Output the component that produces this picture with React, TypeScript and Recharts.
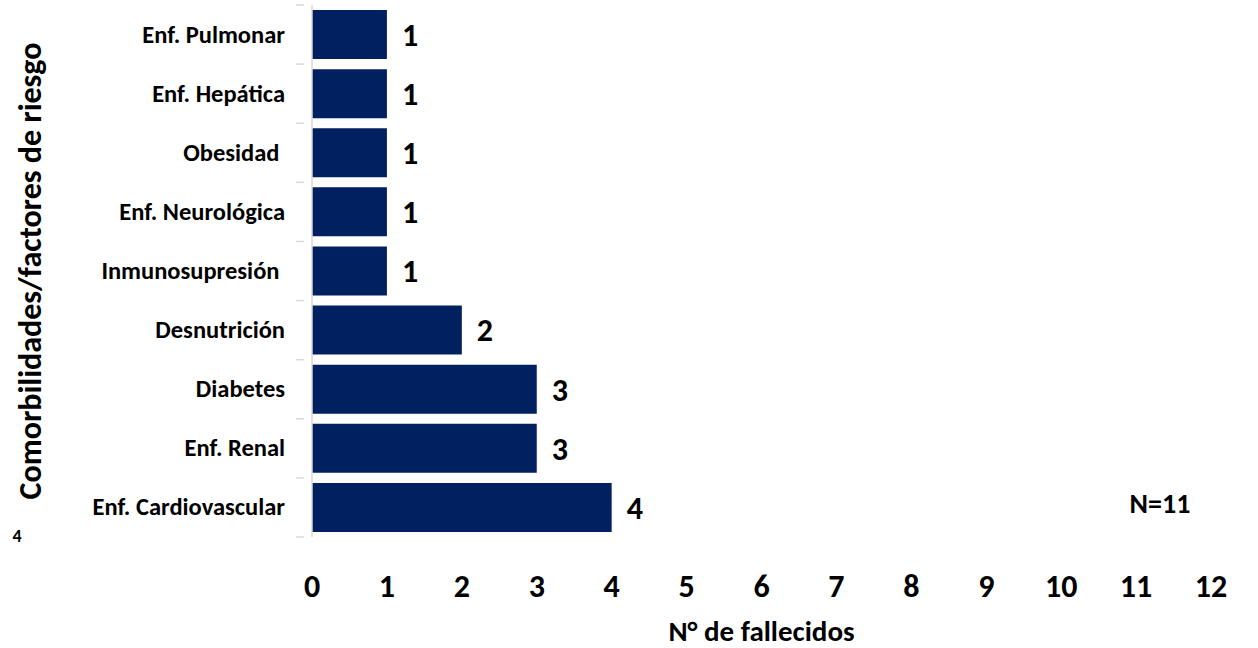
import React from "react";
import { BarChart, Bar, XAxis, YAxis, LabelList } from "recharts";

const categorias = [
  "Enf. Pulmonar",
  "Enf. Hepática",
  "Obesidad ",
  "Enf. Neurológica",
  "Inmunosupresión ",
  "Desnutrición",
  "Diabetes",
  "Enf. Renal",
  "Enf. Cardiovascular",
];
const fallecidos = [1, 1, 1, 1, 1, 2, 3, 3, 4];
const xTicks = [0, 1, 2, 3, 4, 5, 6, 7, 8, 9, 10, 11, 12];

const data = categorias.map((c, i) => ({ name: c, value: fallecidos[i] }));

const W = 1258;
const H = 648;
const MARGIN = { top: 5, right: 47, bottom: 81, left: 0 };
const AXIS_W = 312;
const FONT = "Carlito, Lato, 'Liberation Sans', sans-serif";
const BAND = (H - MARGIN.top - MARGIN.bottom - 30) / categorias.length;

const CategoryTick = (props: any) => {
  const { x, y, payload, index } = props;
  const last = index === categorias.length - 1;
  return (
    <g>
      <text
        x={x - 19}
        y={y}
        textAnchor="end"
        dominantBaseline="central"
        fontFamily={FONT}
        fontWeight="bold"
        fontSize={24.5}
        fill="#000"
        style={{ whiteSpace: "pre" }}
      >
        {payload.value}
      </text>
      <line x1={x - 8} x2={x} y1={y - BAND / 2} y2={y - BAND / 2} stroke="#d9d9d9" strokeWidth={1.5} />
      {last && <line x1={x - 8} x2={x} y1={y + BAND / 2} y2={y + BAND / 2} stroke="#d9d9d9" strokeWidth={1.5} />}
    </g>
  );
};

export default function App() {
  return (
    <div style={{ position: "absolute", left: 0, top: 0, width: W, height: H, background: "#fff" }}>
      <BarChart width={W} height={H} data={data} layout="vertical" margin={MARGIN} barCategoryGap="8.5%">
        <XAxis
          type="number"
          domain={[0, 12]}
          ticks={xTicks}
          interval={0}
          axisLine={false}
          tickLine={false}
          tickMargin={31}
          tick={{ fill: "#000", fontSize: 32, fontWeight: "bold", fontFamily: FONT }}
          label={{
            value: "N° de fallecidos",
            position: "insideBottom",
            offset: -74,
            fill: "#000",
            fontSize: 29,
            fontWeight: "bold",
            fontFamily: FONT,
          }}
        />
        <YAxis
          type="category"
          dataKey="name"
          width={AXIS_W}
          interval={0}
          axisLine={{ stroke: "#d9d9d9", strokeWidth: 1.5 }}
          tickLine={false}
          tick={<CategoryTick />}
          label={{
            value: "Comorbilidades/factores de riesgo",
            angle: -90,
            position: "insideLeft",
            offset: 30,
            style: { textAnchor: "middle" },
            fill: "#000",
            fontSize: 32,
            fontWeight: "bold",
            fontFamily: FONT,
          }}
        />
        <Bar dataKey="value" fill="#002060" isAnimationActive={false}>
          <LabelList
            dataKey="value"
            position="right"
            offset={15}
            fill="#000"
            fontSize={32}
            fontWeight="bold"
            fontFamily={FONT}
          />
        </Bar>
        <text x={1160} y={503} textAnchor="middle" dominantBaseline="central" fontFamily={FONT} fontWeight="bold" fontSize={28} fill="#000">
          N=11
        </text>
        <text x={17} y={536} textAnchor="middle" dominantBaseline="central" fontFamily={FONT} fontWeight="bold" fontSize={18} fill="#000">
          4
        </text>
      </BarChart>
    </div>
  );
}
